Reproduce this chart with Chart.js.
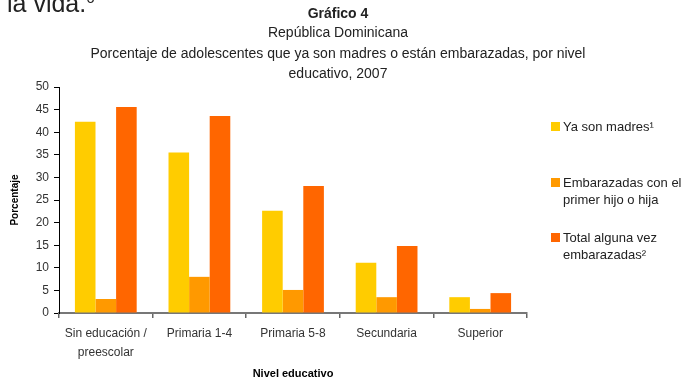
<!DOCTYPE html>
<html>
<head>
<meta charset="utf-8">
<script src="https://cdn.jsdelivr.net/npm/chart.js@4/dist/chart.umd.min.js"></script>
<style>
	body { margin: 0; background: #fff; }
	#wrap { position: relative; width: 694px; height: 383px; overflow: hidden; font-family: "Liberation Sans", Arial, sans-serif; color: #222; }
	#wrap canvas { position: absolute; left: 0; top: 0; }
	.t { position: absolute; left: 0; width: 676px; text-align: center; white-space: nowrap; font-size: 14px; line-height: 20px; }
	.lead { position: absolute; left: 7px; top: -14px; font-size: 25px; line-height: 34px; color: #222; }
	.lg { position: absolute; left: 551px; font-size: 13px; line-height: 17px; }
	.lg i { position: absolute; left: 0; width: 9px; height: 9px; }
	.lg span { position: absolute; left: 12px; white-space: nowrap; }
</style>
</head>
<body>
<div id="wrap">
	<canvas id="c" width="694" height="383"></canvas>
	<div class="lead">la vida.<sup style="font-size:15px;vertical-align:9px;line-height:0">6</sup></div>
	<div class="t" style="top:3px;font-weight:bold;">Gráfico 4</div>
	<div class="t" style="top:22px;">República Dominicana</div>
	<div class="t" style="top:43px;">Porcentaje de adolescentes que ya son madres o están embarazadas, por nivel</div>
	<div class="t" style="top:63px;">educativo, 2007</div>
	<div id="legend"></div>
</div>
<script>
const categories = [['Sin educación /', 'preescolar'], 'Primaria 1-4', 'Primaria 5-8', 'Secundaria', 'Superior'];
const yaSonMadres = [42.3, 35.5, 22.6, 11.1, 3.5];
const embarazadasPrimerHijo = [3.1, 8.0, 5.1, 3.5, 0.9];
const totalAlgunaVez = [45.6, 43.6, 28.1, 14.8, 4.4];
const seriesLabels = [['Ya son madres¹'], ['Embarazadas con el', 'primer hijo o hija'], ['Total alguna vez', 'embarazadas²']];
const seriesColors = ['#FFCC00', '#FF9900', '#FF6600'];
const legendTops = [118, 174, 229];

const boldFont = (size) => ({ family: '"Liberation Sans", Arial', size, weight: 'bold' });

const legend = document.getElementById('legend');
seriesLabels.forEach((lines, i) => {
	const item = document.createElement('div');
	item.className = 'lg';
	item.style.top = legendTops[i] + 'px';
	item.innerHTML = '<i style="top:4px;background:' + seriesColors[i] + '"></i><span>' + lines.join('<br>') + '</span>';
	legend.appendChild(item);
});

new Chart(document.getElementById('c'), {
	type: 'bar',
	data: {
		labels: categories,
		datasets: [yaSonMadres, embarazadasPrimerHijo, totalAlgunaVez].map((data, i) => ({
			label: seriesLabels[i].join(' '),
			data,
			backgroundColor: seriesColors[i],
			categoryPercentage: 0.66,
			barPercentage: 1
		}))
	},
	options: {
		responsive: false,
		animation: false,
		layout: { padding: { left: 0, top: 87, right: 167, bottom: 0 } },
		plugins: { legend: { display: false }, tooltip: { enabled: false } },
		scales: {
			x: {
				grid: { drawOnChartArea: false, tickLength: 5, color: '#666', lineWidth: 1.5 },
				border: { color: '#777', width: 2 },
				ticks: { color: '#333', padding: 6, font: { family: '"Liberation Sans", Arial', size: 12, lineHeight: 1.6 }, maxRotation: 0 },
				title: { display: true, text: 'Nivel educativo', color: '#000', font: boldFont(11), padding: { top: 0, bottom: 2 } },
				afterFit: (s) => { s.height = 70; }
			},
			y: {
				min: 0,
				max: 50,
				ticks: { stepSize: 5, color: '#333', padding: 5, font: { family: '"Liberation Sans", Arial', size: 12 } },
				grid: { drawOnChartArea: false, tickLength: 5, color: '#000' },
				border: { color: '#000', width: 1 },
				title: { display: true, text: 'Porcentaje', color: '#000', font: boldFont(10), padding: { top: 9, bottom: 0 } },
				afterFit: (s) => { s.width = 59; }
			}
		}
	}
});
</script>
</body>
</html>
